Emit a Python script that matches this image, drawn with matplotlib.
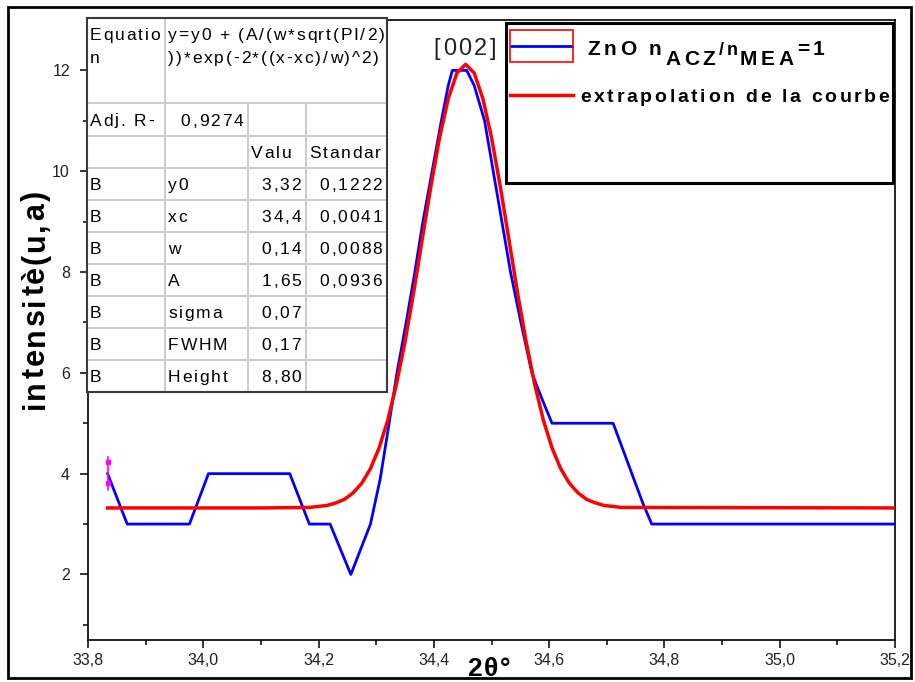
import numpy as np
import matplotlib
matplotlib.use("Agg")
import matplotlib.pyplot as plt
from matplotlib.lines import Line2D
from matplotlib.patches import Rectangle
from matplotlib.font_manager import FontProperties, findfont
from matplotlib.ft2font import FT2Font

plt.rcParams['font.family'] = ['Liberation Sans', 'DejaVu Sans']

#%%
# data

# measured pattern (blue)
x_meas = [33.834, 33.868, 33.976, 34.009, 34.150, 34.184, 34.220, 34.256, 34.290,
          34.307, 34.321, 34.336, 34.352, 34.367, 34.381, 34.397, 34.413, 34.425,
          34.432, 34.457, 34.470, 34.488, 34.503, 34.518, 34.533, 34.551, 34.570,
          34.587, 34.605, 34.711, 34.763, 34.778, 35.200]
y_meas = [4.0, 3.0, 3.0, 4.0, 4.0, 3.0, 3.0, 2.0, 3.0,
          3.9, 4.9, 6.0, 7.0, 8.0, 9.0, 10.0, 11.0, 11.7,
          12.0, 12.0, 11.7, 11.0, 10.0, 9.0, 8.0, 7.0, 6.0,
          5.5, 5.0, 5.0, 3.4, 3.0, 3.0]

# fitted curve (red)
x_fit = [33.834, 34.100, 34.185, 34.200, 34.215, 34.230, 34.245, 34.260, 34.275,
         34.290, 34.305, 34.320, 34.335, 34.350, 34.365, 34.380, 34.395, 34.410,
         34.425, 34.440, 34.455, 34.470, 34.485, 34.500, 34.515, 34.530, 34.545,
         34.560, 34.575, 34.590, 34.605, 34.620, 34.635, 34.650, 34.665, 34.680,
         34.695, 34.710, 34.725, 35.200]
y_fit = [3.32, 3.32, 3.33, 3.35, 3.37, 3.42, 3.49, 3.62, 3.81,
         4.10, 4.51, 5.06, 5.77, 6.62, 7.60, 8.66, 9.71, 10.67,
         11.44, 11.95, 12.12, 11.95, 11.44, 10.67, 9.71, 8.66, 7.60,
         6.62, 5.77, 5.06, 4.51, 4.10, 3.81, 3.62, 3.49, 3.42,
         3.37, 3.35, 3.33, 3.32]

# error bar on first point
err_x = 33.834
err_y = [3.68, 4.34]
err_marks = [3.82, 4.24]

x_ticks = [33.8, 34.0, 34.2, 34.4, 34.6, 34.8, 35.0, 35.2]
x_ticklabels = ['33,8', '34,0', '34,2', '34,4', '34,6', '34,8', '35,0', '35,2']
y_ticks = [2, 4, 6, 8, 10, 12]

# fit result table
table_rows = [
    ['Adj. R-', '0,9274', '', ''],
    ['', '', 'Valu', 'Standar'],
    ['B', 'y0', '3,32', '0,1222'],
    ['B', 'xc', '34,4', '0,0041'],
    ['B', 'w', '0,14', '0,0088'],
    ['B', 'A', '1,65', '0,0936'],
    ['B', 'sigma', '0,07', ''],
    ['B', 'FWHM', '0,17', ''],
    ['B', 'Height', '8,80', ''],
]
eq_label = ['Equatio', 'n']
eq_text = ['y=y0 + (A/(w*sqrt(PI/2)', '))*exp(-2*((x-xc)/w)^2)']

#%%
W, H = 915, 682
fig = plt.figure(figsize=(W / 100, H / 100), dpi=100)


def fx(px):
    return px / W


def fy(py):
    return 1 - py / H


# Origin draws its text with extra letter spacing, so place characters one by one
_ft = {}


def advance(ch, size, weight):
    if weight not in _ft:
        _ft[weight] = FT2Font(findfont(FontProperties(family='Liberation Sans', weight=weight)))
    f = _ft[weight]
    f.set_size(size, 72)
    g = f.load_char(ord(ch))
    return g.linearHoriAdvance / 65536 * 100 / 72


def spaced(x, y, s, size, spacing, weight='normal', ha='left', rot=0,
           color='black', z=8):
    widths = [advance(c, size, weight) for c in s]
    total = sum(widths) + spacing * (len(s) - 1)
    pos = {'left': 0, 'center': -total / 2, 'right': -total}[ha]
    for c, w in zip(s, widths):
        if c != ' ':
            if rot == 0:
                fig.text(fx(x + pos), fy(y), c, fontsize=size, fontweight=weight,
                         ha='left', va='baseline', color=color, zorder=z)
            else:
                fig.text(fx(x), fy(y - pos), c, fontsize=size, fontweight=weight,
                         rotation=90, rotation_mode='anchor', ha='left',
                         va='baseline', color=color, zorder=z)
        pos += w + spacing
    return x + pos


ax = fig.add_axes([fx(88), fy(640), fx(895) - fx(88), fy(20) - fy(640)])

ax.plot(x_meas, y_meas, color='#0000ff', lw=2.0, zorder=3)
ax.plot(x_fit, y_fit, color='#ff0000', lw=2.5, zorder=4)
ax.plot([err_x, err_x], err_y, color='#ff00ff', lw=1.2, zorder=5)
ax.plot([err_x, err_x], err_marks, 's', color='#ff00ff', ms=3, zorder=5)

ax.set_xlim(33.8, 35.2)
ax.set_ylim(0.7, 13.0)
ax.set_xticks(x_ticks)
ax.set_xticklabels(x_ticklabels)
ax.set_xticks(np.arange(33.9, 35.2, 0.2), minor=True)
ax.set_yticks(y_ticks)
ax.set_yticks([1, 3, 5, 7, 9, 11], minor=True)
ax.tick_params(which='both', direction='out', width=1.1, colors='black',
               labelsize=11.5, labelcolor='#222222', top=False, right=False)
ax.tick_params(which='major', length=6)
ax.tick_params(which='minor', length=3.5)
ax.tick_params(axis='y', pad=7)
for s in ax.spines.values():
    s.set_linewidth(1.2)

# axis titles
spaced(44, 300, 'intensitè(u,a)', 22, 2.2, weight='bold', ha='center', rot=90)
spaced(489, 676, '2θ°', 19, 2.0, weight='bold', ha='center')

spaced(465, 55, '[002]', 17, 2.5, ha='center', color='#222222', z=6)

#%%
# fit table drawn in figure pixels
col_x = [87, 165, 248, 306, 387]
row_y = [18, 103, 136, 168, 200, 232, 264, 296, 328, 360, 392]

fig.patches.append(Rectangle((fx(col_x[0]), fy(row_y[-1])),
                             fx(col_x[-1]) - fx(col_x[0]), fy(row_y[0]) - fy(row_y[-1]),
                             transform=fig.transFigure, facecolor='white',
                             edgecolor='none', zorder=5))
grid_c = '#cccccc'
for yy in row_y[1:-1]:
    fig.lines.append(Line2D([fx(col_x[0]), fx(col_x[-1])], [fy(yy), fy(yy)],
                            transform=fig.transFigure, color=grid_c, lw=1.4, zorder=6))
fig.lines.append(Line2D([fx(col_x[1])] * 2, [fy(row_y[0]), fy(row_y[-1])],
                        transform=fig.transFigure, color=grid_c, lw=1.4, zorder=6))
for xx in col_x[2:4]:
    fig.lines.append(Line2D([fx(xx)] * 2, [fy(row_y[1]), fy(row_y[-1])],
                            transform=fig.transFigure, color=grid_c, lw=1.4, zorder=6))
fig.patches.append(Rectangle((fx(col_x[0]), fy(row_y[-1])),
                             fx(col_x[-1]) - fx(col_x[0]), fy(row_y[0]) - fy(row_y[-1]),
                             transform=fig.transFigure, facecolor='none',
                             edgecolor='#3a3a3a', lw=1.5, zorder=7))

tfs, tsp = 12.5, 1.85
for k in range(2):
    spaced(col_x[0] + 3, 40 + 23 * k, eq_label[k], tfs, tsp)
    spaced(col_x[1] + 3, 40 + 23 * k, eq_text[k], tfs, tsp)
for i, row in enumerate(table_rows):
    base = (row_y[i + 1] + row_y[i + 2]) / 2 + 6
    for j, cell in enumerate(row):
        if cell == '':
            continue
        if cell.replace(',', '').isdigit():
            spaced(col_x[j + 1] - 5, base, cell, tfs, tsp, ha='right')
        else:
            spaced(col_x[j] + 3, base, cell, tfs, tsp)

#%%
# legend box
fig.patches.append(Rectangle((fx(506), fy(183)), fx(893) - fx(506), fy(23) - fy(183),
                             transform=fig.transFigure, facecolor='white',
                             edgecolor='black', lw=2.2, zorder=5))
fig.patches.append(Rectangle((fx(510), fy(62)), fx(573) - fx(510), fy(30) - fy(62),
                             transform=fig.transFigure, facecolor='none',
                             edgecolor='#ff0000', lw=1.2, zorder=6))
fig.lines.append(Line2D([fx(511), fx(572)], [fy(46), fy(46)], transform=fig.transFigure,
                        color='#0000ff', lw=2.0, zorder=6))
fig.lines.append(Line2D([fx(510), fx(573)], [fy(95), fy(95)], transform=fig.transFigure,
                        color='#ff0000', lw=2.5, zorder=6))

# ZnO n_ACZ/n_MEA=1 with Origin-style subscripts
lx = spaced(587, 55, 'ZnO n', 15, 3.6, weight='bold')
lx = spaced(lx, 65, 'ACZ', 15, 3.6, weight='bold')
lx = spaced(lx, 55, '/n', 13, 2.5, weight='bold')
lx = spaced(lx, 65, 'MEA', 15, 3.6, weight='bold')
spaced(lx, 55, '=1', 15, 3.6, weight='bold')
spaced(580, 102, 'extrapolation de la courbe', 14, 2.7, weight='bold')

# outer frame
fig.patches.append(Rectangle((fx(8), fy(678)), fx(911) - fx(8), fy(7) - fy(678),
                             transform=fig.transFigure, facecolor='none',
                             edgecolor='black', lw=2, zorder=10))

fig.savefig('out.png', dpi=100)
